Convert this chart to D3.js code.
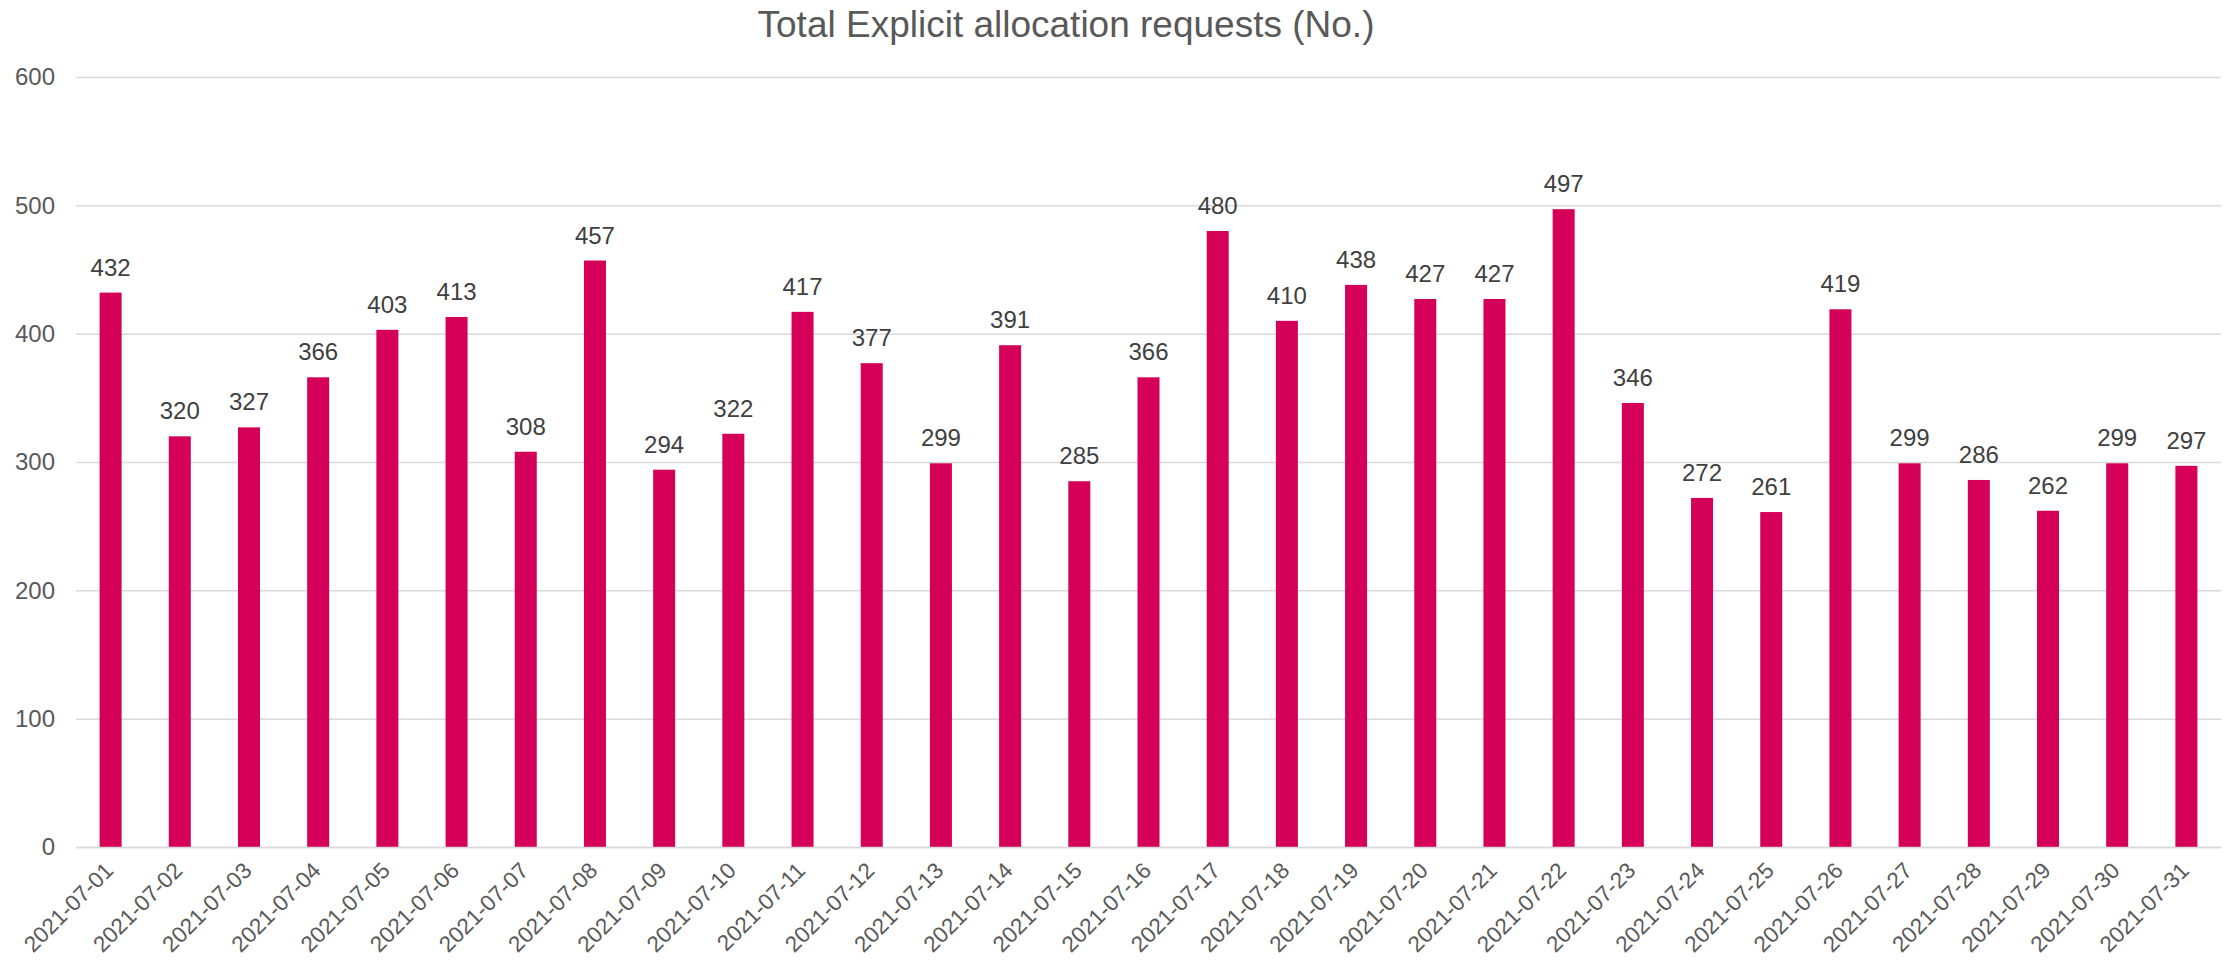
<!DOCTYPE html>
<html>
<head>
<meta charset="utf-8">
<script src="https://cdn.jsdelivr.net/npm/d3@7"></script>
<style>
  html, body { margin: 0; padding: 0; background: #ffffff; }
  svg { display: block; font-family: "Liberation Sans", Arial, sans-serif; }
</style>
</head>
<body>
<svg id="chart" width="2226" height="965"></svg>
<script>
const title = "Total Explicit allocation requests (No.)";
const categories = [
  "2021-07-01","2021-07-02","2021-07-03","2021-07-04","2021-07-05","2021-07-06","2021-07-07","2021-07-08",
  "2021-07-09","2021-07-10","2021-07-11","2021-07-12","2021-07-13","2021-07-14","2021-07-15","2021-07-16",
  "2021-07-17","2021-07-18","2021-07-19","2021-07-20","2021-07-21","2021-07-22","2021-07-23","2021-07-24",
  "2021-07-25","2021-07-26","2021-07-27","2021-07-28","2021-07-29","2021-07-30","2021-07-31"
];
const values = [432,320,327,366,403,413,308,457,294,322,417,377,299,391,285,366,480,410,438,427,427,497,346,272,261,419,299,286,262,299,297];
const yTicks = [0,100,200,300,400,500,600];

(function () {
const svg = d3.select("#chart");
const mLeft = 76, mRight = 2221, mTop = 77, mBottom = 847;

const x = d3.scaleBand().domain(categories).range([mLeft, mRight]).paddingInner(0.682).paddingOuter(0.341);
const y = d3.scaleLinear().domain([0, 600]).range([mBottom, mTop]);

// gridlines
const yAxis = d3.axisLeft(y).tickValues(yTicks).tickSize(-(mRight - mLeft)).tickPadding(21);
const gy = svg.append("g").attr("transform", `translate(${mLeft},0)`).call(yAxis);
gy.select(".domain").remove();
gy.selectAll(".tick line").attr("stroke", "#d9d9d9").attr("stroke-width", 1.5);
gy.selectAll(".tick text").attr("fill", "#595959").attr("font-size", 24)
  .attr("font-family", "Liberation Sans, Arial, sans-serif");

// bars
svg.append("g").selectAll("rect").data(values).join("rect")
  .attr("x", (d, i) => x(categories[i]))
  .attr("width", x.bandwidth())
  .attr("y", d => y(d))
  .attr("height", d => y(0) - y(d))
  .attr("fill", "#d50057");

// data labels
svg.append("g").selectAll("text").data(values).join("text")
  .attr("x", (d, i) => x(categories[i]) + x.bandwidth() / 2)
  .attr("y", d => y(d) - 17)
  .attr("text-anchor", "middle")
  .attr("font-size", 24)
  .attr("fill", "#404040")
  .text(d => d);

// x axis
const xAxis = d3.axisBottom(x).tickSize(0).tickPadding(0);
const gx = svg.append("g").attr("transform", `translate(0,${mBottom})`).call(xAxis);
gx.select(".domain").attr("stroke", "#d9d9d9").attr("stroke-width", 1.5);
gx.selectAll(".tick text")
  .attr("fill", "#595959").attr("font-size", 22.5)
  .attr("font-family", "Liberation Sans, Arial, sans-serif")
  .attr("text-anchor", "end")
  .attr("dy", null)
  .attr("y", 0)
  .attr("transform", "translate(4,25) rotate(-45)");

// title
svg.append("text")
  .attr("x", 1066).attr("y", 37)
  .attr("text-anchor", "middle")
  .attr("font-size", 37)
  .attr("fill", "#595959")
  .text(title);
})();
</script>
</body>
</html>
